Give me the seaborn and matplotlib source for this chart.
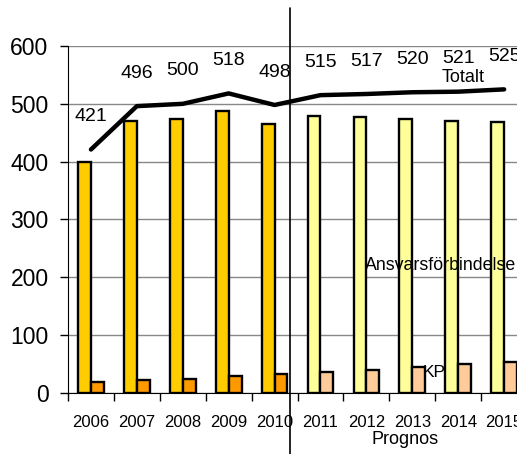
import numpy as np
import pandas as pd
import seaborn as sns
import matplotlib.pyplot as plt

# data
years = ["2006", "2007", "2008", "2009", "2010", "2011", "2012", "2013", "2014", "2015"]
ansvar = [400, 470, 474, 488, 465, 479, 477, 474, 471, 469]
kp = [19, 23, 24, 29, 32, 36, 40, 45, 50, 54]
totalt = [421, 496, 500, 518, 498, 515, 517, 520, 521, 525]
n_past = 5  # 2006-2010 outcome, rest is forecast

df = pd.DataFrame({
    "year": years * 2,
    "value": ansvar + kp,
    "series": ["Ansvarsförbindelse"] * len(years) + ["KP"] * len(years),
})

sns.set_style("white")
plt.rcParams["font.family"] = ["Liberation Sans", "DejaVu Sans"]
plt.rcParams["text.color"] = "black"
plt.rcParams["xtick.color"] = "black"
plt.rcParams["ytick.color"] = "black"

fig = plt.figure(figsize=(5.17, 4.54), dpi=100)
ax = fig.add_axes([0.1315, 0.1344, 0.888, 0.7643])

sns.barplot(data=df, x="year", y="value", hue="series", width=0.56,
            dodge=True, legend=False, ax=ax, edgecolor="black", linewidth=1.7,
            saturation=1)

# recolour: outcome years darker, forecast years lighter
colors = {
    "Ansvarsförbindelse": ("#FFCC00", "#FFFF99"),
    "KP": ("#FF9900", "#FFCC99"),
}
for cont, name in zip(ax.containers, ["Ansvarsförbindelse", "KP"]):
    for i, bar in enumerate(cont.patches):
        bar.set_facecolor(colors[name][0] if i < n_past else colors[name][1])

xs = np.arange(len(years))
sns.lineplot(x=xs, y=totalt, color="black", linewidth=3.2, ax=ax)

for x, v in zip(xs, totalt):
    ax.text(x, v + 57, str(v), ha="center", va="center", fontsize=14)

ax.set_xlim(-0.5, len(years) - 0.5)
ax.set_ylim(0, 600)
ax.set_yticks([0, 100, 200, 300, 400, 500, 600])
ax.tick_params(axis="y", labelsize=16.5, length=6, width=1, direction="out",
               left=True, pad=8)
ax.set_xticks(np.arange(len(years) + 1) - 0.5)
ax.set_xticklabels([])
ax.set_xticks(xs, minor=True)
ax.set_xticklabels(years, minor=True, fontsize=12)
ax.tick_params(axis="x", which="major", length=6, width=1, direction="out",
               bottom=True)
ax.tick_params(axis="x", which="minor", length=0, pad=16)
ax.set_xlabel("")
ax.set_ylabel("")

ax.grid(axis="y", color="#888888", linewidth=1)
ax.set_axisbelow(True)
for s in ["top", "right"]:
    ax.spines[s].set_visible(False)
ax.spines["left"].set_color("black")
ax.spines["bottom"].set_color("black")

# forecast divider
ax.axvline(4.33, ymin=-0.176, ymax=1.11, color="black", linewidth=1.2,
           clip_on=False)

ax.text(7.63, 546, "Totalt", fontsize=13, va="center")
ax.text(5.96, 220, "Ansvarsförbindelse", fontsize=12.8, va="center")
ax.text(7.22, 35, "KP", fontsize=12.5, va="center")
ax.text(6.11, -80, "Prognos", fontsize=13, va="center", clip_on=False)

fig.savefig("out.png", dpi=100)
